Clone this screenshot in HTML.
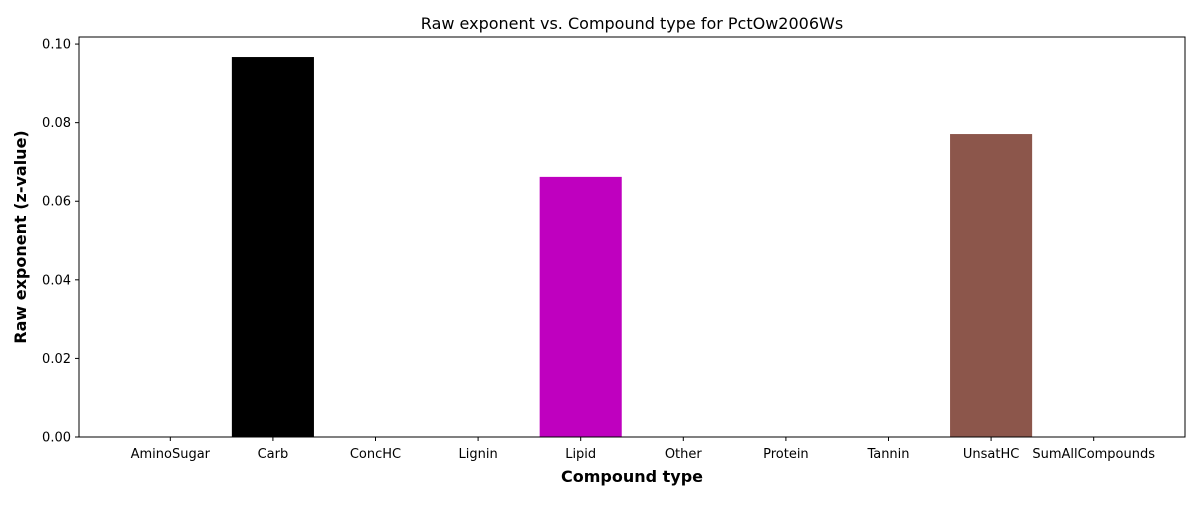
<!DOCTYPE html>
<html><head><meta charset="utf-8"><style>
body{margin:0;background:#fff;font-family:"Liberation Sans","DejaVu Sans",sans-serif;}
svg text{font-family:"DejaVu Sans","Liberation Sans",sans-serif;}
</style></head><body>
<svg id="chart" width="1200" height="500" xmlns="http://www.w3.org/2000/svg"></svg>
<script>
const categories=["AminoSugar","Carb","ConcHC","Lignin","Lipid","Other","Protein","Tannin","UnsatHC","SumAllCompounds"];
const values=[0,0.0967,0,0,0.0662,0,0,0,0.0771,0];
const colors=["#1f77b4","#000000","#1f77b4","#1f77b4","#bf00bf","#1f77b4","#1f77b4","#1f77b4","#8c564b","#1f77b4"];
const yTicks=[0,0.02,0.04,0.06,0.08,0.10];
const yTickLabels=["0.00","0.02","0.04","0.06","0.08","0.10"];

const L=79,R=1185,T=37,B=437;
const xmin=-0.89,xmax=9.89,ymin=0,ymax=0.1018;
const sx=v=>L+(v-xmin)/(xmax-xmin)*(R-L);
const sy=v=>B-(v-ymin)/(ymax-ymin)*(B-T);
const svg=document.getElementById('chart');
const NS="http://www.w3.org/2000/svg";
function mk(tag,attrs,txt){const e=document.createElementNS(NS,tag);for(const k in attrs)e.setAttribute(k,attrs[k]);if(txt!=null)e.textContent=txt;svg.appendChild(e);return e;}

values.forEach((v,i)=>{
  const x0=sx(i-0.4),x1=sx(i+0.4);
  const r=mk('rect',{x:x0,y:sy(v),width:x1-x0,height:Math.max(0,sy(0)-sy(v)),fill:colors[i]});
  
  
});
const f=mk('rect',{x:L,y:T,width:R-L,height:B-T,fill:'none',stroke:'#000','stroke-width':1});



categories.forEach((c,i)=>{
  const x=sx(i);
  mk('line',{x1:x,x2:x,y1:B,y2:B+4,stroke:'#000'});
  const t=mk('text',{x:x,y:B+21,'text-anchor':'middle','font-size':13},c);
  
  
});
yTicks.forEach((v,i)=>{
  const y=sy(v);
  mk('line',{x1:L-4,x2:L,y1:y,y2:y,stroke:'#000'});
  const t=mk('text',{x:L-8,y:y+4.5,'text-anchor':'end','font-size':13},yTickLabels[i]);
  
  
});
const xt=mk('text',{x:(L+R)/2,y:482,'text-anchor':'middle','font-size':16,'font-weight':'bold'},'Compound type');


const yt=mk('text',{x:0,y:0,'text-anchor':'middle','font-size':16,'font-weight':'bold',transform:`translate(26,${(T+B)/2}) rotate(-90)`},'Raw exponent (z-value)');


const ti=mk('text',{x:(L+R)/2,y:29,'text-anchor':'middle','font-size':16},'Raw exponent vs. Compound type for PctOw2006Ws');


</script>
</body></html>
